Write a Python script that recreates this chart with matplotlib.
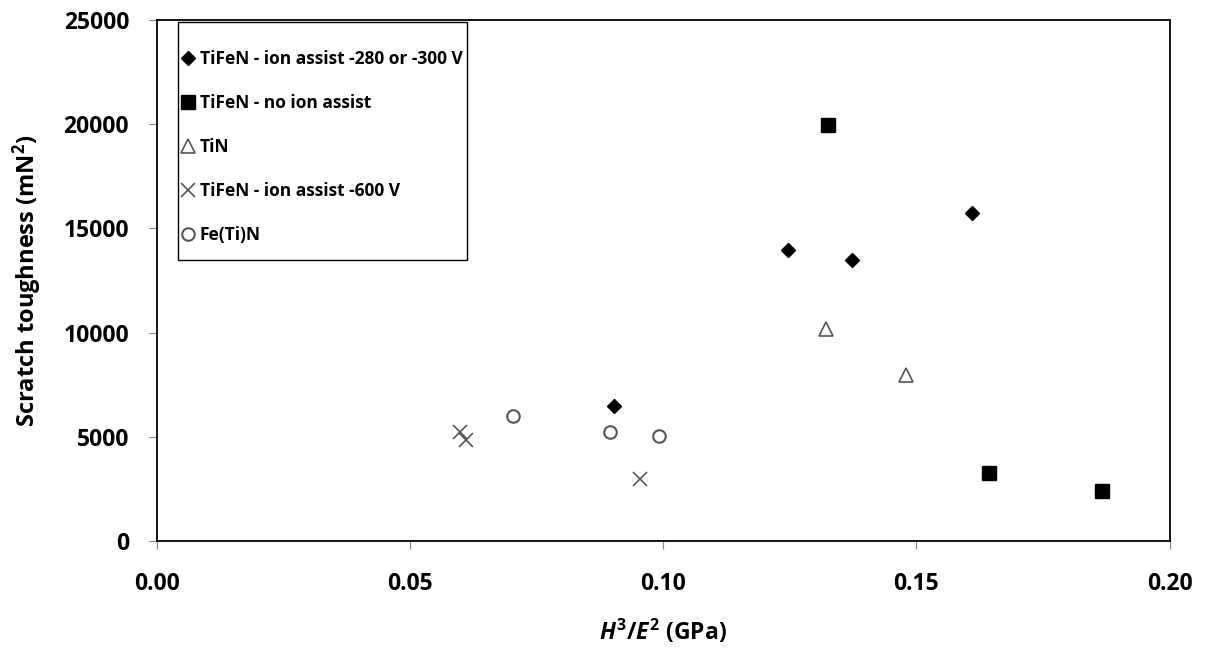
import numpy as np
from matplotlib import pyplot as plt
from matplotlib.patches import Rectangle

# data
x_ion300 = [0.0902, 0.1246, 0.1373, 0.1609]
y_ion300 = [6480, 13950, 13480, 15750]

x_noion = [0.1326, 0.1644, 0.1867]
y_noion = [19980, 3250, 2380]

x_tin = [0.1322, 0.1479]
y_tin = [10150, 7950]

x_ion600 = [0.0598, 0.0611, 0.0954]
y_ion600 = [5250, 4850, 2960]

x_feti = [0.0703, 0.0894, 0.0992]
y_feti = [6000, 5220, 5050]

x_ticks = [0.00, 0.05, 0.10, 0.15, 0.20]
y_ticks = [0, 5000, 10000, 15000, 20000, 25000]

plt.rcParams['font.family'] = 'Open Sans'
plt.rcParams['font.weight'] = 'bold'
plt.rcParams['axes.labelweight'] = 'bold'
plt.rcParams['mathtext.fontset'] = 'custom'
plt.rcParams['mathtext.rm'] = 'Open Sans:bold'
plt.rcParams['mathtext.it'] = 'Open Sans:italic:bold'
plt.rcParams['mathtext.bf'] = 'Open Sans:bold'


def data_plot():
    fig = plt.figure(figsize=(12.07, 6.63), dpi=100)
    ax = fig.add_axes([0.130, 0.184, 0.839, 0.786])

    gray = '#555555'
    ax.plot(x_ion300, y_ion300, 'D', color='black', markersize=7.5,
            label='TiFeN - ion assist -280 or -300 V')
    ax.plot(x_noion, y_noion, 's', color='black', markersize=9.5,
            label='TiFeN - no ion assist')
    ax.plot(x_tin, y_tin, '^', markerfacecolor='white', markeredgecolor=gray,
            markeredgewidth=1.2, markersize=10, label='TiN')
    ax.plot(x_ion600, y_ion600, 'x', color=gray, markeredgewidth=1.2,
            markersize=10, label='TiFeN - ion assist -600 V')
    ax.plot(x_feti, y_feti, 'o', markerfacecolor='white', markeredgecolor=gray,
            markeredgewidth=1.5, markersize=9, label='Fe(Ti)N')

    ax.set_xlim(0, 0.20)
    ax.set_ylim(0, 25000)
    ax.set_xticks(x_ticks)
    ax.set_yticks(y_ticks)
    ax.set_xticklabels(['%.2f' % t for t in x_ticks])
    ax.tick_params(axis='both', labelsize=16.5, length=6, color='#888888',
                   direction='out')
    ax.tick_params(axis='x', pad=16)
    ax.tick_params(axis='y', pad=14)

    for s in ax.spines.values():
        s.set_color('black')
        s.set_linewidth(1.3)

    ax.set_xlabel(r'$H^3/E^2$ (GPa)', fontsize=16.5, fontweight='bold',
                  labelpad=16)
    ax.set_ylabel(r'Scratch toughness (mN$^2$)', fontsize=17,
                  fontweight='bold', labelpad=14)

    # legend box drawn separately so the padding can differ per side
    ax.add_patch(Rectangle((0.0207, 0.539), 0.286, 0.457,
                           transform=ax.transAxes, facecolor='white',
                           edgecolor='black', linewidth=1.0, zorder=4))
    ax.legend(loc='upper left', bbox_to_anchor=(0.0232, 0.943),
              fontsize=12.5, frameon=False, labelspacing=1.5,
              handletextpad=0.2, handlelength=0.9, borderpad=0.0,
              borderaxespad=0.0)

    fig.savefig('out.png', dpi=100)


if __name__ == '__main__':
    data_plot()
